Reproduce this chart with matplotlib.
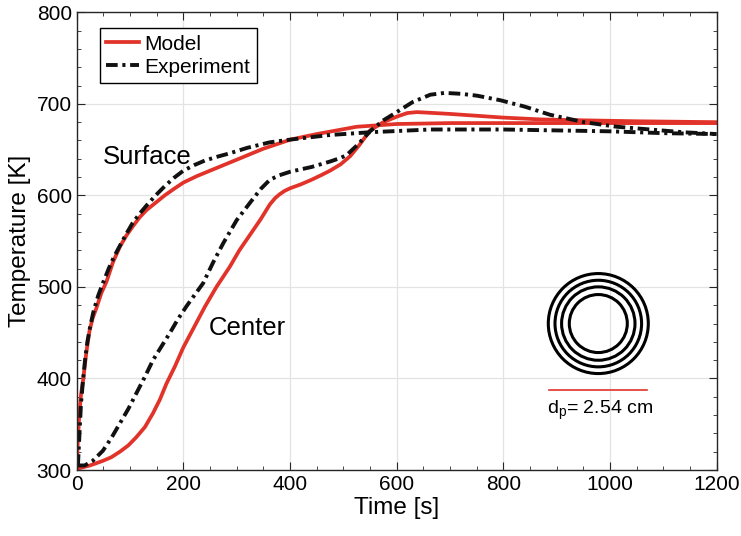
"""
Recreate temperature vs time chart: model vs experiment, surface and center.
"""

import matplotlib
matplotlib.use("Agg")
import matplotlib.pyplot as plt
import matplotlib.transforms as mtransforms
from matplotlib.patches import Circle
from matplotlib.ticker import MultipleLocator

plt.rcParams["font.family"] = ["Liberation Sans", "DejaVu Sans"]
plt.rcParams["mathtext.fontset"] = "custom"
plt.rcParams["mathtext.rm"] = "Liberation Sans"
plt.rcParams["mathtext.it"] = "Liberation Sans"

# surface, model
t_surf_mod = [0, 2, 5, 8, 12, 18, 24, 30, 37, 46, 56, 68, 81, 93, 105, 118, 131,
              148, 165, 182, 200, 225, 250, 275, 300, 350, 401, 450, 525, 600,
              700, 800, 1000, 1200]
T_surf_mod = [300, 330, 361, 382, 398, 428, 452, 466, 477, 493, 506, 527, 544,
              556, 566, 576, 584, 592, 600, 607, 614, 621, 627, 633, 639, 651,
              661, 667, 675, 678, 679, 679, 679, 679]

# surface, experiment
t_surf_exp = [0, 2.5, 4, 5.6, 8, 12, 16, 20, 25, 31, 40, 49, 60, 70, 81, 93, 105,
              118, 131, 148, 165, 182, 200, 220, 240, 262, 287, 320, 362, 401,
              475, 550, 663, 800, 900, 1000, 1100, 1200]
T_surf_exp = [305, 307, 325, 344, 372, 399, 422, 440, 456, 472, 490, 504, 520,
              533, 545, 558, 570, 580, 589, 600, 610, 619, 627, 633, 638, 642,
              646, 652, 658, 661, 666, 669, 672, 672, 671, 670, 668, 667]

# center, model
t_cent_mod = [0, 5, 25, 49, 65, 81, 97, 112, 128, 143, 156, 168, 184, 200, 220,
              240, 262, 287, 305, 325, 345, 362, 372, 380, 390, 401, 420, 440,
              458, 475, 495, 513, 530, 550, 575, 600, 620, 638, 670, 700, 750,
              800, 870, 951, 1050, 1200]
T_cent_mod = [300, 302, 305, 310, 314, 320, 327, 336, 347, 362, 377, 394, 413,
              434, 456, 478, 500, 522, 540, 557, 574, 590, 597, 601, 605, 608,
              612, 617, 622, 627, 634, 643, 655, 671, 680, 686, 690, 691, 690,
              689, 687, 685, 683, 682, 681, 680]

# center, experiment
t_cent_exp = [0, 15, 30, 49, 65, 81, 97, 112, 128, 143, 160, 175, 190, 206, 222,
              237, 256, 275, 300, 325, 345, 362, 380, 401, 440, 475, 495, 506,
              528, 550, 575, 600, 630, 663, 690, 720, 750, 794, 840, 888, 920,
              951, 1013, 1075, 1138, 1200]
T_cent_exp = [305, 305, 310, 321, 335, 351, 367, 384, 402, 420, 436, 450, 465,
              479, 492, 504, 527, 548, 573, 592, 607, 617, 622, 626, 631, 637,
              641, 644, 656, 670, 682, 691, 702, 710, 712, 711, 709, 704, 697,
              688, 684, 680, 675, 672, 669, 667]

RED = "#e2332a"
DASHDOT = (0, (3, 1.2, 0.8, 1.2))

fig = plt.figure(figsize=(7.41, 5.36), dpi=100)
ax = fig.add_axes([0.1035, 0.1231, 0.8637, 0.8539])

ax.plot(t_surf_mod, T_surf_mod, color=RED, lw=2.7, label="Model")
ax.plot(t_cent_mod, T_cent_mod, color=RED, lw=2.7)
ax.plot(t_surf_exp, T_surf_exp, color="#111111", lw=2.8, ls=DASHDOT, label="Experiment")
ax.plot(t_cent_exp, T_cent_exp, color="#111111", lw=2.8, ls=DASHDOT)

ax.set_xlim(0, 1200)
ax.set_ylim(300, 800)
ax.xaxis.set_major_locator(MultipleLocator(200))
ax.xaxis.set_minor_locator(MultipleLocator(50))
ax.yaxis.set_major_locator(MultipleLocator(100))
ax.yaxis.set_minor_locator(MultipleLocator(20))
ax.tick_params(which="both", direction="in", top=True, right=True,
               labelsize=15, color="#262626")
ax.tick_params(which="major", length=6)
ax.tick_params(which="minor", length=3)
ax.grid(True, which="major", color="#e3e3e3", lw=0.9)
ax.set_axisbelow(True)
for sp in ax.spines.values():
    sp.set_color("#262626")
    sp.set_linewidth(1.0)

ax.set_xlabel("Time [s]", fontsize=17.5, labelpad=2)
ax.set_ylabel("Temperature [K]", fontsize=17.5, labelpad=4)

leg = ax.legend(loc="upper left", bbox_to_anchor=(0.036, 0.965), borderaxespad=0,
                fontsize=15, fancybox=False, edgecolor="black", framealpha=1,
                handlelength=1.6, handletextpad=0.25, borderpad=0.3, labelspacing=0.2)
leg.get_frame().set_linewidth(1.0)

ax.text(49, 642, "Surface", fontsize=18.5, va="center", ha="left")
ax.text(248, 455, "Center", fontsize=18.5, va="center", ha="left")

# particle sketch with shells
trans = fig.dpi_scale_trans + mtransforms.ScaledTranslation(978, 460, ax.transData)
for r in [0.5, 0.433, 0.367, 0.29]:
    ax.add_patch(Circle((0, 0), r, transform=trans, fill=False, lw=2.2,
                        edgecolor="black", clip_on=False))
ax.plot([885, 1070], [387, 387], color=RED, lw=1.2)
ax.text(982, 365, r"d$_\mathrm{p}$= 2.54 cm", fontsize=14, ha="center", va="center")

fig.savefig("out.png", dpi=100)
